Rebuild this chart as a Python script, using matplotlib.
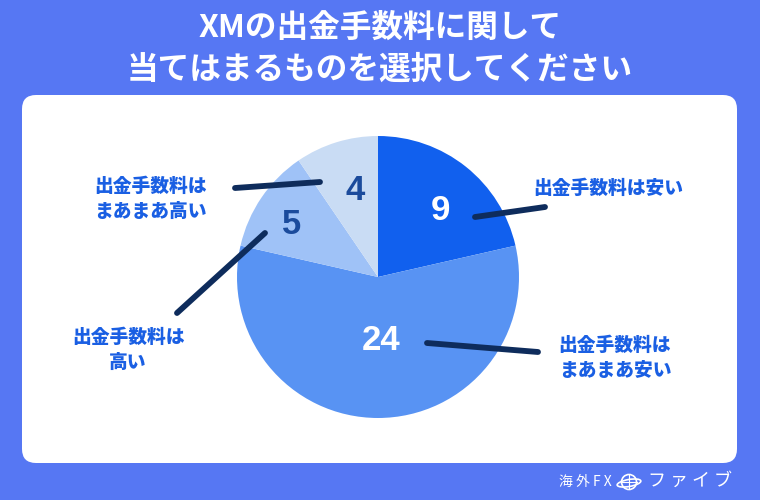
import matplotlib
matplotlib.use("Agg")
import matplotlib.pyplot as plt
from matplotlib.patches import FancyBboxPatch, Circle, Ellipse

plt.rcParams["font.family"] = ["Noto Sans CJK JP", "DejaVu Sans"]

# データ (時計回り、12時から)
answers = ["出金手数料は安い", "出金手数料は\nまあまあ安い", "出金手数料は\n高い", "出金手数料は\nまあまあ高い"]
counts = [9, 24, 5, 4]
colors = ["#1160ee", "#5893f3", "#9fc2f7", "#c9dcf4"]
number_colors = ["white", "white", "#1b4b9c", "#1b4b9c"]

title = "XMの出金手数料に関して\n当てはまるものを選択してください"

# レイアウト (ピクセル座標、上が0)
W, H = 760, 500
pie_center = (378, 277)
pie_radius = 141
number_pos = [(440, 210), (381, 341), (292, 225), (355, 190)]
leader_lines = [
    ((475, 217), (545, 207)),
    ((427, 343), (538, 352)),
    ((265, 233), (177, 313)),
    ((320, 182), (235, 188)),
]
label_pos = [(533, 188, "left"), (615, 358, "center"), (128, 350, "center"), (150, 199, "center")]


def py(y):
    return H - y


fig = plt.figure(figsize=(7.6, 5.0), dpi=100)
fig.patch.set_facecolor("#5677f3")
ax = fig.add_axes([0, 0, 1, 1])
ax.set_facecolor("#5677f3")

# 白いカード
card = FancyBboxPatch((22, py(463)), 715, 368,
                      boxstyle="round,pad=0,rounding_size=14",
                      facecolor="white", edgecolor="none", zorder=1)
ax.add_patch(card)

# 円グラフ
wedges, _ = ax.pie(counts, colors=colors, startangle=90, counterclock=False,
                   center=(pie_center[0], py(pie_center[1])), radius=pie_radius,
                   frame=True, wedgeprops=dict(linewidth=0))
for w in wedges:
    w.set_zorder(2)

for n, (x, y), c in zip(counts, number_pos, number_colors):
    ax.text(x, py(y), str(n), ha="center", va="center", color=c,
            fontsize=25, fontweight="bold", family="Liberation Sans", zorder=4)

for (x0, y0), (x1, y1) in leader_lines:
    ax.plot([x0, x1], [py(y0), py(y1)], color="#0e2c5c", lw=4.2, solid_capstyle="round", zorder=3)

for text, (x, y, ha) in zip(answers, label_pos):
    ax.text(x, py(y), text, ha=ha, va="center", multialignment="center",
            color="#1a5fe3", fontsize=13.5, fontweight="heavy", linespacing=1.45, zorder=4)

# タイトル
ax.text(380, py(49), title, ha="center", va="center", color="white",
        fontsize=22.8, fontweight="bold", linespacing=1.4)

# ロゴ
ax.text(585, py(482), "海 外 F X", ha="center", va="center", color="white", fontsize=10)
ax.add_patch(Circle((629, py(482)), 7.5, facecolor="none", edgecolor="white", lw=1.2))
ax.add_patch(Ellipse((629, py(483)), 24, 7, angle=10, facecolor="none", edgecolor="white", lw=1.2))
ax.plot([621.5, 636.5], [py(482), py(482)], color="white", lw=0.8)
ax.plot([629, 629], [py(475), py(489)], color="white", lw=0.8)
ax.text(690, py(481), "フ ァ イ ブ", ha="center", va="center", color="white", fontsize=13)

ax.set_xlim(0, W)
ax.set_ylim(0, H)
ax.set_aspect("auto")
ax.axis("off")

fig.savefig("out.png", dpi=100, facecolor=fig.get_facecolor())
